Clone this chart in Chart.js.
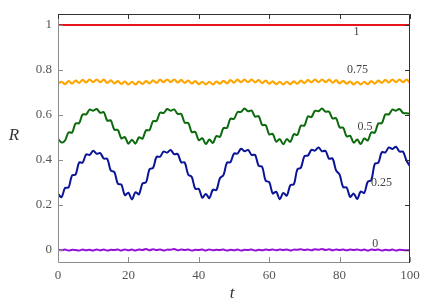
<!DOCTYPE html>
<html>
<head>
<meta charset="utf-8">
<script src="https://cdn.jsdelivr.net/npm/chart.js@4.4.1/dist/chart.umd.min.js"></script>
<style>
  html, body { margin: 0; padding: 0; background: #fff; }
  canvas { display: block; }
</style>
</head>
<body>
<canvas id="rChart" width="436" height="306"></canvas>
<script>
// time axis, one sample per unit of t
const tSteps = Array.from({ length: 101 }, (_, i) => i);

// R(t) for each coupling
const rOne = [1, 1];
const tOne = [0, 100];

const rThreeQuarter = [
  0.739, 0.748, 0.737, 0.751, 0.740, 0.753, 0.743, 0.756, 0.745, 0.758,
  0.746, 0.758, 0.746, 0.757, 0.743, 0.754, 0.741, 0.751, 0.738, 0.749,
  0.736, 0.748, 0.736, 0.749, 0.738, 0.751, 0.741, 0.754, 0.743, 0.757,
  0.746, 0.758, 0.746, 0.758, 0.745, 0.756, 0.743, 0.753, 0.740, 0.751,
  0.737, 0.748, 0.736, 0.748, 0.736, 0.749, 0.739, 0.752, 0.741, 0.755,
  0.744, 0.757, 0.746, 0.758, 0.746, 0.758, 0.745, 0.755, 0.742, 0.753,
  0.739, 0.750, 0.737, 0.748, 0.736, 0.748, 0.737, 0.750, 0.739, 0.753,
  0.742, 0.755, 0.745, 0.758, 0.746, 0.758, 0.746, 0.757, 0.744, 0.755,
  0.741, 0.752, 0.739, 0.749, 0.736, 0.748, 0.736, 0.748, 0.737, 0.751,
  0.740, 0.753, 0.743, 0.756, 0.745, 0.758, 0.746, 0.758, 0.746, 0.757,
  0.743
];

const rHalf = [
  0.495, 0.478, 0.487, 0.523, 0.522, 0.563, 0.564, 0.603, 0.603, 0.624,
  0.619, 0.627, 0.610, 0.613, 0.575, 0.576, 0.535, 0.534, 0.496, 0.502,
  0.473, 0.490, 0.473, 0.501, 0.495, 0.532, 0.533, 0.573, 0.574, 0.611,
  0.609, 0.627, 0.619, 0.625, 0.605, 0.605, 0.566, 0.565, 0.524, 0.525,
  0.488, 0.497, 0.471, 0.491, 0.476, 0.507, 0.503, 0.542, 0.543, 0.584,
  0.583, 0.613, 0.614, 0.629, 0.617, 0.620, 0.593, 0.595, 0.556, 0.555,
  0.514, 0.516, 0.482, 0.493, 0.470, 0.493, 0.481, 0.515, 0.512, 0.553,
  0.553, 0.594, 0.591, 0.619, 0.617, 0.629, 0.615, 0.615, 0.585, 0.586,
  0.545, 0.544, 0.505, 0.508, 0.477, 0.491, 0.471, 0.496, 0.487, 0.523,
  0.522, 0.563, 0.564, 0.603, 0.603, 0.624, 0.619, 0.627, 0.610, 0.608,
  0.606
];

const rQuarter = [
  0.250, 0.235, 0.276, 0.278, 0.332, 0.336, 0.389, 0.389, 0.425, 0.423,
  0.441, 0.428, 0.431, 0.407, 0.405, 0.354, 0.347, 0.295, 0.291, 0.244,
  0.255, 0.225, 0.257, 0.248, 0.296, 0.301, 0.359, 0.365, 0.414, 0.415,
  0.438, 0.433, 0.445, 0.426, 0.427, 0.390, 0.389, 0.335, 0.325, 0.272,
  0.272, 0.233, 0.249, 0.231, 0.268, 0.267, 0.319, 0.333, 0.388, 0.391,
  0.429, 0.429, 0.450, 0.439, 0.445, 0.423, 0.423, 0.375, 0.370, 0.308,
  0.302, 0.252, 0.259, 0.226, 0.254, 0.242, 0.288, 0.292, 0.359, 0.366,
  0.417, 0.420, 0.445, 0.442, 0.456, 0.439, 0.441, 0.406, 0.407, 0.354,
  0.335, 0.280, 0.278, 0.236, 0.251, 0.227, 0.260, 0.254, 0.304, 0.311,
  0.383, 0.388, 0.435, 0.434, 0.456, 0.449, 0.459, 0.438, 0.437, 0.398,
  0.372
];

const rZero = [
  0.001, -0.001, 0.002, -0.002, 0.001, 0.000, -0.002, 0.002, -0.001, 0.001,
  -0.002, 0.003, -0.001, 0.002, -0.002, 0.001, 0.000, 0.002, -0.002, 0.003,
  -0.001, 0.002, -0.002, 0.003, 0.000, 0.005, -0.001, 0.004, 0.000, 0.003,
  -0.002, 0.002, 0.001, 0.005, -0.001, 0.003, 0.000, 0.002, -0.002, 0.001,
  0.000, 0.002, -0.002, 0.003, -0.001, 0.001, 0.000, 0.002, -0.002, 0.001,
  -0.001, 0.002, -0.002, 0.001, 0.000, 0.002, -0.002, 0.001, -0.001, 0.002,
  0.000, 0.003, -0.001, 0.002, 0.000, 0.003, -0.002, 0.002, 0.001, 0.004,
  0.000, 0.003, -0.001, 0.004, 0.001, 0.005, 0.000, 0.004, -0.001, 0.003,
  0.000, 0.002, -0.001, 0.002, 0.000, 0.003, -0.001, 0.002, -0.002, 0.002,
  0.000, 0.002, -0.002, 0.001, -0.001, 0.002, -0.002, 0.001, 0.000, -0.001,
  0.000
];

// axis ticks
const xTicks = [0, 20, 40, 60, 80, 100];
const yTicks = [0, 0.2, 0.4, 0.6, 0.8, 1];
const yTickLabels = ["0", "0.2", "0.4", "0.6", "0.8", "1"];

// curve labels: text, t, R
const curveLabels = ["1", "0.75", "0.5", "0.25", "0"];
const curveLabelT = [84.8, 85.1, 87.2, 91.9, 90.1];
const curveLabelR = [0.968, 0.799, 0.546, 0.299, 0.026];

const serif = "'Liberation Serif', 'DejaVu Serif', serif";

const toPoints = (ts, rs) => rs.map((r, i) => ({ x: ts[i], y: r }));

// frame, inward ticks on all sides, curve labels and axis titles
const framePlugin = {
  id: "frame",
  afterDraw(chart) {
    const { ctx, chartArea: a, scales } = chart;
    const xs = scales.x, ys = scales.y;
    const tick = 5;
    ctx.save();
    ctx.lineWidth = 1;

    // left and bottom in grey, top and right darker
    ctx.strokeStyle = "#8c8c8c";
    ctx.beginPath();
    ctx.moveTo(a.left + 0.5, a.top);
    ctx.lineTo(a.left + 0.5, a.bottom + 0.5);
    ctx.lineTo(a.right, a.bottom + 0.5);
    xTicks.forEach(v => {
      const px = Math.round(xs.getPixelForValue(v)) + 0.5;
      ctx.moveTo(px, a.bottom);
      ctx.lineTo(px, a.bottom - tick);
    });
    yTicks.forEach(v => {
      const py = Math.round(ys.getPixelForValue(v)) + 0.5;
      ctx.moveTo(a.left, py);
      ctx.lineTo(a.left + tick, py);
    });
    ctx.stroke();

    ctx.strokeStyle = "#333";
    ctx.beginPath();
    ctx.moveTo(a.left, a.top + 0.5);
    ctx.lineTo(a.right - 0.5, a.top + 0.5);
    ctx.lineTo(a.right - 0.5, a.bottom + 1);
    xTicks.forEach(v => {
      const px = Math.round(xs.getPixelForValue(v)) + 0.5;
      ctx.moveTo(px, a.top);
      ctx.lineTo(px, a.top + tick);
    });
    yTicks.forEach(v => {
      const py = Math.round(ys.getPixelForValue(v)) + 0.5;
      ctx.moveTo(a.right, py);
      ctx.lineTo(a.right - tick, py);
    });
    ctx.stroke();

    // labels next to each curve
    ctx.fillStyle = "#444";
    ctx.font = "12px " + serif;
    ctx.textAlign = "center";
    ctx.textBaseline = "middle";
    curveLabels.forEach((txt, i) => {
      ctx.fillText(txt, xs.getPixelForValue(curveLabelT[i]), ys.getPixelForValue(curveLabelR[i]));
    });

    // axis titles
    ctx.fillStyle = "#333";
    ctx.font = "italic 17px " + serif;
    ctx.fillText("R", 14, 136);
    ctx.fillText("t", 232, 294);
    ctx.restore();
  }
};

const tickFont = { family: serif, size: 13 };

new Chart(document.getElementById("rChart"), {
  type: "line",
  data: {
    datasets: [
      { data: toPoints(tOne, rOne), borderColor: "#e8141c", borderWidth: 2 },
      { data: toPoints(tSteps, rThreeQuarter), borderColor: "#ffa500", borderWidth: 2.2 },
      { data: toPoints(tSteps, rHalf), borderColor: "#0b6a0b", borderWidth: 2 },
      { data: toPoints(tSteps, rQuarter), borderColor: "#0a1496", borderWidth: 2 },
      { data: toPoints(tSteps, rZero), borderColor: "#9410d8", borderWidth: 2 }
    ]
  },
  options: {
    responsive: false,
    animation: false,
    devicePixelRatio: 1,
    layout: { padding: { top: 14, right: 26, left: 0, bottom: 0 } },
    plugins: { legend: { display: false }, tooltip: { enabled: false } },
    elements: {
      point: { radius: 0 },
      line: { tension: 0.35, fill: false }
    },
    scales: {
      x: {
        type: "linear",
        min: 0,
        max: 100,
        grid: { display: false, drawTicks: false },
        border: { display: false },
        afterBuildTicks: s => { s.ticks = xTicks.map(v => ({ value: v })); },
        afterFit: s => { s.height = 44; },
        ticks: {
          font: tickFont,
          color: "#555",
          padding: 6,
          maxRotation: 0,
          callback: (v, i) => String(xTicks[i])
        }
      },
      y: {
        type: "linear",
        min: -0.053,
        max: 1.049,
        grid: { display: false, drawTicks: false },
        border: { display: false },
        afterBuildTicks: s => { s.ticks = yTicks.map(v => ({ value: v })); },
        afterFit: s => { s.width = 58; },
        ticks: {
          font: tickFont,
          color: "#555",
          padding: 6,
          callback: (v, i) => yTickLabels[i]
        }
      }
    }
  },
  plugins: [framePlugin]
});
</script>
</body>
</html>
